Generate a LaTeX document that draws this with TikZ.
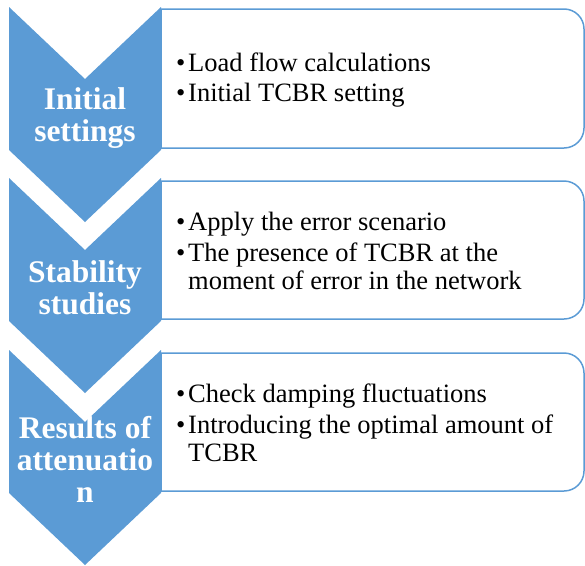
\documentclass[tikz,border=0pt]{standalone}
\usepackage{fontspec}
\setmainfont{Liberation Serif}
\usepackage{xcolor}
\usepackage{tikz}
\definecolor{chevblue}{HTML}{5B9BD5}
\newcommand{\itm}{\makebox[12pt][l]{\textbullet}}
\newcommand{\cont}{\hspace*{12pt}}

\begin{document}
\begin{tikzpicture}[x=1pt,y=-1pt,
    chev/.style={fill=chevblue},
    box/.style={draw=chevblue,line width=1.5pt},
    stage/.style={text=white,align=center,inner sep=0pt,font=\fontsize{31.5}{32}\selectfont\bfseries},
    items/.style={anchor=west,align=left,inner sep=0pt,font=\fontsize{26.5}{28}\selectfont}]
    \useasboundingbox (0,0) rectangle (585,565);
    % boxes
    \draw[box] (161,9) [rounded corners=20pt] -- (584,9) -- (584,148) [sharp corners] -- (161,148) -- cycle;
    \draw[box] (161,181) [rounded corners=20pt] -- (584,181) -- (584,319) [sharp corners] -- (161,319) -- cycle;
    \draw[box] (161,353) [rounded corners=20pt] -- (584,353) -- (584,491) [sharp corners] -- (161,491) -- cycle;
    % chevrons
    \fill[chev] (9,7) -- (85,79) -- (161,7) -- (161,150) -- (85,222) -- (9,150) -- cycle;
    \fill[chev] (9,178) -- (85,250) -- (161,178) -- (161,321) -- (85,393) -- (9,321) -- cycle;
    \fill[chev] (9,350) -- (85,422) -- (161,350) -- (161,493) -- (85,565) -- (9,493) -- cycle;
    % labels
    \node[stage] (init) at (85,118) {Initial\\settings};
    \node[stage] (stab) at (85,288) {Stability\\studies};
    \node[stage] (res) at (85,459) {Results of\\attenuatio\\n};
    \node[items] (initlist) at (176,80) {\itm Load flow calculations\\[2.5pt]\itm Initial TCBR setting};
    \node[items] (stablist) at (176,251) {\itm Apply the error scenario\\[3pt]\itm The presence of TCBR at the\\\cont moment of error in the network};
    \node[items] (reslist) at (176,423) {\itm Check damping fluctuations\\[2.5pt]\itm Introducing the optimal amount of\\\cont TCBR};
\end{tikzpicture}
\end{document}
